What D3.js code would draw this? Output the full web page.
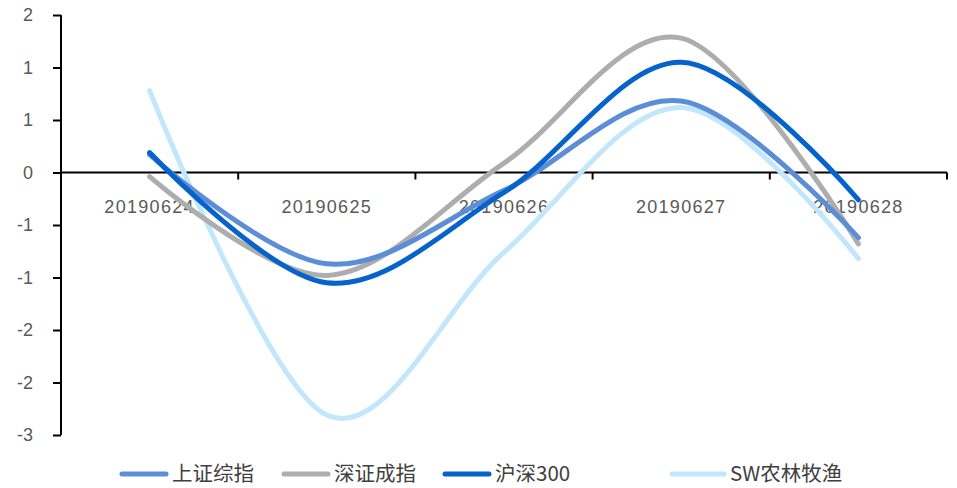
<!DOCTYPE html>
<html>
<head>
<meta charset="utf-8">
<script src="https://cdn.jsdelivr.net/npm/d3@7"></script>
<style>
  body { margin: 0; background: #fff; }
  text { font-family: "Noto Sans CJK SC", "Noto Sans", sans-serif; }
</style>
</head>
<body>
<div class="chart"></div>
<script>
"use strict"
// data
let dates = ["20190624", "20190625", "20190626", "20190627", "20190628"];
let shIndex = [0.17, -0.87, -0.17, 0.68, -0.62];
let szIndex = [-0.04, -0.98, 0.09, 1.28, -0.68];
let hs300 = [0.19, -1.05, -0.19, 1.05, -0.26];
let swAgri = [0.78, -2.31, -0.76, 0.62, -0.82];
let names = ["上证综指", "深证成指", "沪深300", "SW农林牧渔"];
let yTicks = [1.5, 1, 0.5, 0, -0.5, -1, -1.5, -2, -2.5];

let series = [
  { name: names[0], vals: shIndex, color: "#5B8ED6" },
  { name: names[1], vals: szIndex, color: "#ADADAD" },
  { name: names[2], vals: hs300, color: "#0563CB" },
  { name: names[3], vals: swAgri, color: "#C2E7FC" }
];
// draw order: light blue first, then others
let drawOrder = [3, 1, 0, 2];

let W = 957, H = 488;
let pLeft = 61, pRight = 947, pTop = 15, pBottom = 435;

let s = d3.select(".chart")
  .append("svg")
  .attr("width", W)
  .attr("height", H);

let x = d3.scaleBand().domain(dates).range([pLeft, pRight]);
let y = d3.scaleLinear().domain([-2.5, 1.5]).range([pBottom, pTop]);

// y axis (excel style rounding of 0.5 steps)
let yAxis = d3.axisLeft(y)
  .tickValues(yTicks)
  .tickSize(8)
  .tickFormat(function(d) { return (d < 0 ? "-" : "") + Math.round(Math.abs(d)); });
let ya = s.append("g")
  .attr("transform", "translate(" + pLeft + ",0)")
  .call(yAxis);
ya.select(".domain").attr("stroke", "#000").attr("stroke-width", 2).attr("d", "M0," + pTop + "V" + pBottom);
ya.selectAll(".tick line").attr("stroke", "#000").attr("stroke-width", 2);
ya.selectAll(".tick text")
  .attr("x", -28)
  .attr("fill", "#595959")
  .style("font-family", "'Liberation Sans', sans-serif")
  .style("font-size", "18px");

// zero line with category ticks
let y0 = y(0);
s.append("line")
  .attr("x1", pLeft).attr("x2", pRight)
  .attr("y1", y0).attr("y2", y0)
  .attr("stroke", "#000").attr("stroke-width", 2);
let bounds = dates.map(function(d) { return x(d) + x.bandwidth(); });
s.selectAll(".ctick")
  .data(bounds)
  .enter()
  .append("line")
  .attr("x1", function(d) { return d; })
  .attr("x2", function(d) { return d; })
  .attr("y1", y0).attr("y2", y0 + 7)
  .attr("stroke", "#000").attr("stroke-width", 2);

s.selectAll(".clabel")
  .data(dates)
  .enter()
  .append("text")
  .attr("x", function(d) { return x(d) + x.bandwidth() / 2; })
  .attr("y", y0 + 40)
  .attr("text-anchor", "middle")
  .attr("fill", "#595959")
  .style("font-family", "'Liberation Sans', sans-serif")
  .style("font-size", "18px")
  .style("letter-spacing", "1.3px")
  .text(function(d) { return d; });

// smooth lines
let line = d3.line()
  .x(function(d, i) { return x(dates[i]) + x.bandwidth() / 2; })
  .y(function(d) { return y(d); })
  .curve(d3.curveCatmullRom.alpha(0));

s.selectAll(".series")
  .data(drawOrder.map(function(i) { return series[i]; }))
  .enter()
  .append("path")
  .attr("d", function(d) { return line(d.vals); })
  .attr("fill", "none")
  .attr("stroke", function(d) { return d.color; })
  .attr("stroke-width", 5)
  .attr("stroke-linecap", "round");

// legend
let legendX = [120, 282, 443, 670];
let lg = s.selectAll(".legend")
  .data(series)
  .enter()
  .append("g")
  .attr("transform", function(d, i) { return "translate(" + legendX[i] + ",474)"; });
lg.append("line")
  .attr("x1", 2).attr("x2", function(d, i) { return i == 3 ? 54 : 46; })
  .attr("y1", 0).attr("y2", 0)
  .attr("stroke", function(d) { return d.color; })
  .attr("stroke-width", 5)
  .attr("stroke-linecap", "round");
lg.append("text")
  .attr("x", function(d, i) { return i == 3 ? 60 : 52; })
  .attr("y", 7)
  .attr("fill", "#404040")
  .style("font-size", "20.5px")
  .text(function(d) { return d.name; });
</script>
</body>
</html>
